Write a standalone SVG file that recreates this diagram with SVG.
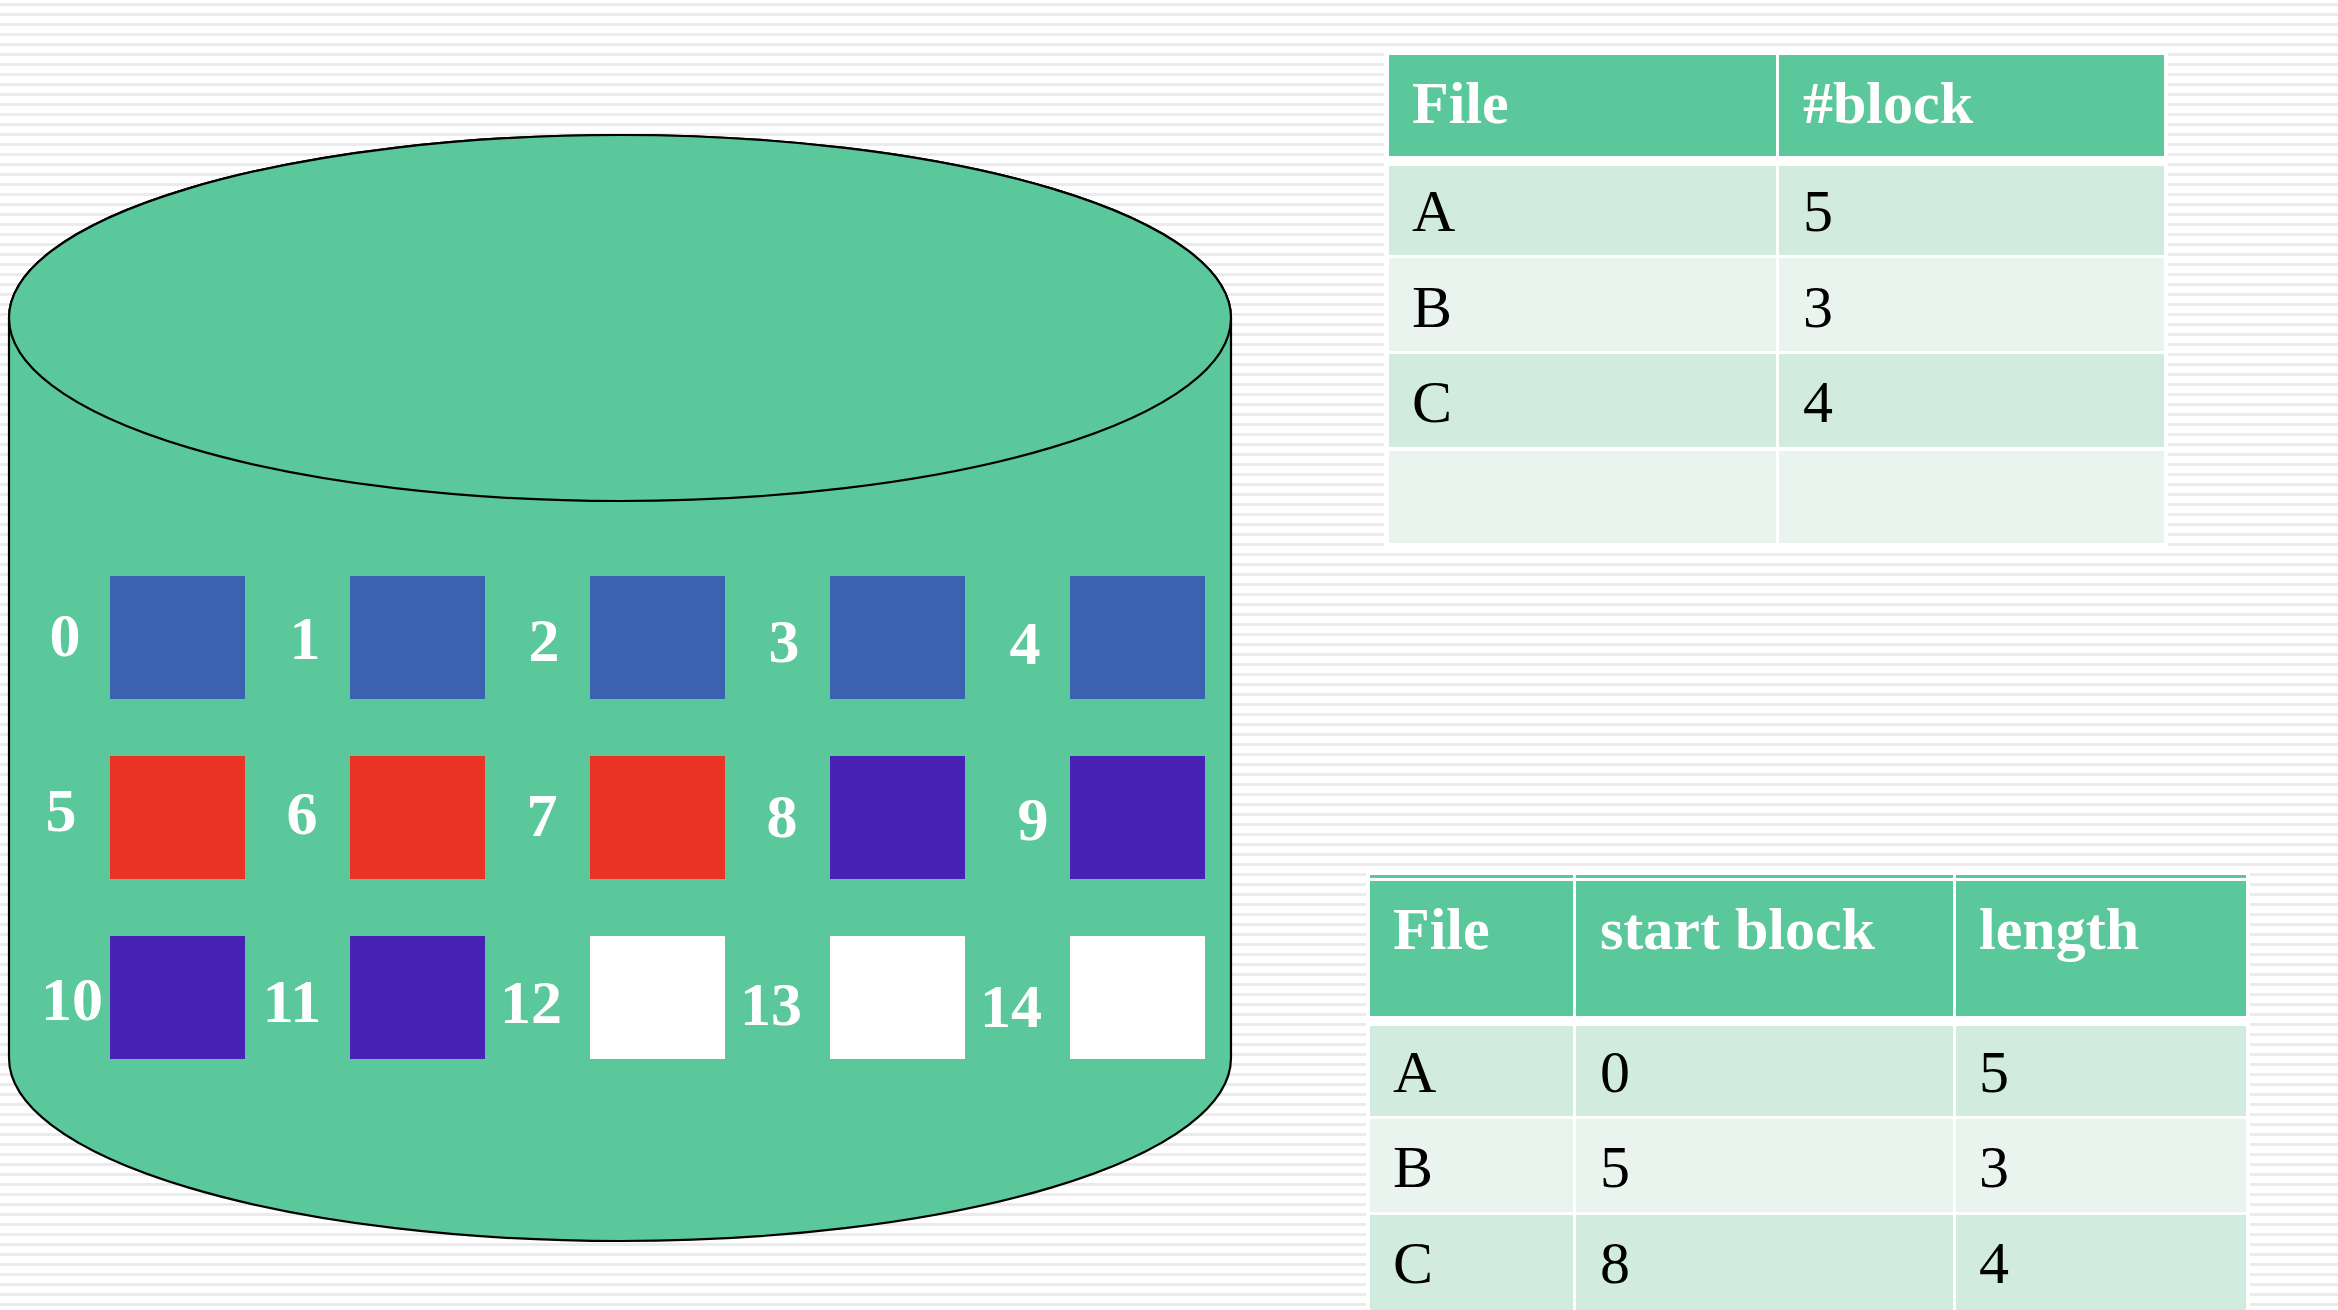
<svg xmlns="http://www.w3.org/2000/svg" width="2338" height="1310" viewBox="0 0 2338 1310">
  <defs>
    <pattern id="stripes" x="0" y="0" width="10" height="10" patternUnits="userSpaceOnUse">
      <rect x="0" y="3" width="10" height="3" fill="#ebebeb"/>
    </pattern>
  </defs>
  <style>
    .disk { fill: #5bc89c; stroke: #000; stroke-width: 2.2; }
    .blue { fill: #3a62b0; }
    .red { fill: #ea3324; }
    .purple { fill: #4722b5; }
    .free { fill: #ffffff; }
    .num { font-family: "Liberation Serif", "Times New Roman", serif; font-weight: bold; font-size: 62px; fill: #ffffff; text-anchor: middle; }
    .hdr { fill: #5bc89c; }
    .r1 { fill: #d1ebdf; }
    .r2 { fill: #e9f4ee; }
    .th { font-family: "Liberation Serif", "Times New Roman", serif; font-weight: bold; font-size: 60px; fill: #ffffff; }
    .td { font-family: "Liberation Serif", "Times New Roman", serif; font-size: 60px; fill: #000000; }
  </style>

  <rect x="0" y="0" width="2338" height="1310" fill="#ffffff"/>
  <rect x="0" y="0" width="2338" height="1310" fill="url(#stripes)"/>

  <g id="disk">
    <path class="disk" d="M 9,318 A 611,183 0 0 1 1231,318 L 1231,1058 A 611,183 0 0 1 9,1058 Z"/>
    <ellipse class="disk" cx="620" cy="318" rx="611" ry="183"/>
  </g>

  <g id="blocks">
    <g id="block-0"><rect class="blue" x="110" y="576" width="135" height="123"/><text class="num" x="65" y="656">0</text></g>
    <g id="block-1"><rect class="blue" x="350" y="576" width="135" height="123"/><text class="num" x="305" y="659">1</text></g>
    <g id="block-2"><rect class="blue" x="590" y="576" width="135" height="123"/><text class="num" x="544" y="661">2</text></g>
    <g id="block-3"><rect class="blue" x="830" y="576" width="135" height="123"/><text class="num" x="784" y="662">3</text></g>
    <g id="block-4"><rect class="blue" x="1070" y="576" width="135" height="123"/><text class="num" x="1025" y="664">4</text></g>

    <g id="block-5"><rect class="red" x="110" y="756" width="135" height="123"/><text class="num" x="61" y="831">5</text></g>
    <g id="block-6"><rect class="red" x="350" y="756" width="135" height="123"/><text class="num" x="302" y="834">6</text></g>
    <g id="block-7"><rect class="red" x="590" y="756" width="135" height="123"/><text class="num" x="542" y="836">7</text></g>
    <g id="block-8"><rect class="purple" x="830" y="756" width="135" height="123"/><text class="num" x="782" y="837">8</text></g>
    <g id="block-9"><rect class="purple" x="1070" y="756" width="135" height="123"/><text class="num" x="1033" y="840">9</text></g>

    <g id="block-10"><rect class="purple" x="110" y="936" width="135" height="123"/><text class="num" x="72" y="1020">10</text></g>
    <g id="block-11"><rect class="purple" x="350" y="936" width="135" height="123"/><text class="num" x="292" y="1022">11</text></g>
    <g id="block-12"><rect class="free" x="590" y="936" width="135" height="123"/><text class="num" x="531" y="1023">12</text></g>
    <g id="block-13"><rect class="free" x="830" y="936" width="135" height="123"/><text class="num" x="771" y="1025">13</text></g>
    <g id="block-14"><rect class="free" x="1070" y="936" width="135" height="123"/><text class="num" x="1011" y="1027">14</text></g>
  </g>

  <g id="table-blocks">
    <rect x="1384" y="48" width="784" height="501" fill="#ffffff"/>
    <rect class="hdr" x="1389" y="55" width="387" height="101"/>
    <rect class="hdr" x="1779" y="55" width="385" height="101"/>
    <rect class="r1" x="1389" y="166" width="387" height="89"/>
    <rect class="r1" x="1779" y="166" width="385" height="89"/>
    <rect class="r2" x="1389" y="258" width="387" height="93"/>
    <rect class="r2" x="1779" y="258" width="385" height="93"/>
    <rect class="r1" x="1389" y="354" width="387" height="93"/>
    <rect class="r1" x="1779" y="354" width="385" height="93"/>
    <rect class="r2" x="1389" y="451" width="387" height="92"/>
    <rect class="r2" x="1779" y="451" width="385" height="92"/>
    <text class="th" x="1412" y="123">File</text>
    <text class="th" x="1803" y="123">#block</text>
    <text class="td" x="1412" y="231">A</text>
    <text class="td" x="1803" y="231">5</text>
    <text class="td" x="1412" y="327">B</text>
    <text class="td" x="1803" y="327">3</text>
    <text class="td" x="1412" y="422">C</text>
    <text class="td" x="1803" y="422">4</text>
  </g>

  <g id="table-contiguous">
    <rect x="1366" y="869" width="884" height="441" fill="#ffffff"/>
    <rect class="hdr" x="1370" y="875" width="203" height="3"/>
    <rect class="hdr" x="1576" y="875" width="377" height="3"/>
    <rect class="hdr" x="1956" y="875" width="290" height="3"/>
    <rect class="hdr" x="1370" y="881" width="203" height="135"/>
    <rect class="hdr" x="1576" y="881" width="377" height="135"/>
    <rect class="hdr" x="1956" y="881" width="290" height="135"/>
    <rect class="r1" x="1370" y="1026" width="203" height="90"/>
    <rect class="r1" x="1576" y="1026" width="377" height="90"/>
    <rect class="r1" x="1956" y="1026" width="290" height="90"/>
    <rect class="r2" x="1370" y="1119" width="203" height="93"/>
    <rect class="r2" x="1576" y="1119" width="377" height="93"/>
    <rect class="r2" x="1956" y="1119" width="290" height="93"/>
    <rect class="r1" x="1370" y="1215" width="203" height="95"/>
    <rect class="r1" x="1576" y="1215" width="377" height="95"/>
    <rect class="r1" x="1956" y="1215" width="290" height="95"/>
    <text class="th" x="1393" y="949">File</text>
    <text class="th" x="1600" y="949">start block</text>
    <text class="th" x="1979" y="949">length</text>
    <text class="td" x="1393" y="1092">A</text>
    <text class="td" x="1600" y="1092">0</text>
    <text class="td" x="1979" y="1092">5</text>
    <text class="td" x="1393" y="1187">B</text>
    <text class="td" x="1600" y="1187">5</text>
    <text class="td" x="1979" y="1187">3</text>
    <text class="td" x="1393" y="1283">C</text>
    <text class="td" x="1600" y="1283">8</text>
    <text class="td" x="1979" y="1283">4</text>
  </g>

  <g id="connectors"/>
</svg>
